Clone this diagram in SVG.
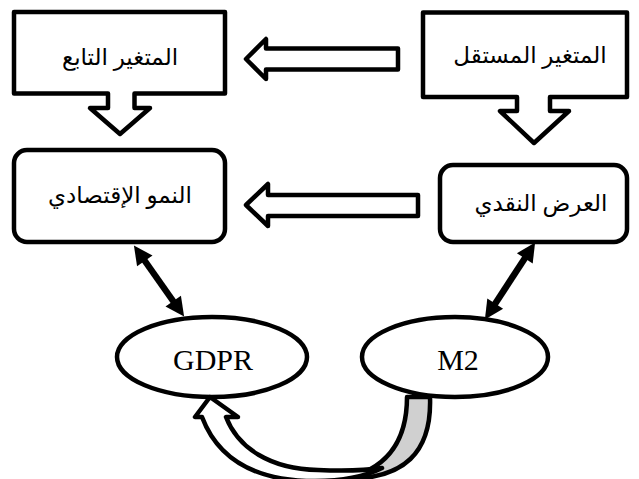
<svg xmlns="http://www.w3.org/2000/svg" width="639" height="479" viewBox="0 0 639 479">
<style>
.box{fill:#fff;stroke:#000;stroke-width:4.5;stroke-linejoin:round}
.blk{fill:#fff;stroke:#000;stroke-width:4.5;stroke-linejoin:round}
.ar{font-family:"Liberation Serif","DejaVu Sans",serif;font-size:23px;fill:#000;text-anchor:middle}
.lat{font-family:"Liberation Serif",serif;font-size:30px;fill:#000;text-anchor:middle}
.thick{stroke:#000;stroke-width:6.5;fill:none}
</style>
<defs>
<marker id="ah" markerUnits="userSpaceOnUse" markerWidth="20" markerHeight="20" viewBox="0 -9 17 18" refX="2" refY="0" orient="auto-start-reverse">
<path d="M0,-8.5 L17,0 L0,8.5 Z" fill="#000"/>
</marker>
</defs>
<rect width="639" height="479" fill="#fff"/>
<g id="node-dependent">
<path class="box" d="M14,12 L225,12 L225,93.5 L134.5,93.5 L134.5,108 L150,108 L120,134 L90,108 L108,108 L108,93.5 L14,93.5 Z"/>
<text class="ar" x="120" y="65">المتغير التابع</text>
</g>
<g id="node-independent">
<path class="box" d="M423,12.5 L627,12.5 L627,97 L550,97 L550,111 L569,111 L534,143 L500,111 L517,111 L517,97 L423,97 Z"/>
<text class="ar" x="530" y="63">المتغير المستقل</text>
</g>
<g id="node-growth">
<rect class="box" x="14" y="150" width="211" height="92" rx="13"/>
<text class="ar" x="120" y="203">النمو الإقتصادي</text>
</g>
<g id="node-money">
<rect class="box" x="440" y="165" width="187" height="77" rx="13"/>
<text class="ar" x="541" y="211">العرض النقدي</text>
</g>
<g id="node-gdpr">
<ellipse class="box" cx="212" cy="357" rx="95" ry="40"/>
<text class="lat" x="213" y="370">GDPR</text>
</g>
<g id="node-m2">
<ellipse class="box" cx="455" cy="357" rx="93" ry="40"/>
<text class="lat" x="458" y="370">M2</text>
</g>
<g id="connectors">
<path class="blk" d="M246,59 L266,39 L266,48.5 L398,48.5 L398,69.5 L266,69.5 L266,79 Z"/>
<path class="blk" d="M246,205 L268,184 L268,195 L418,195 L418,216 L268,216 L268,226 Z"/>
<line class="thick" x1="143.5" y1="259" x2="174.5" y2="303" marker-start="url(#ah)" marker-end="url(#ah)"/>
<line class="thick" x1="526" y1="256.5" x2="494" y2="305.5" marker-start="url(#ah)" marker-end="url(#ah)"/>
<path d="M407,397 L430,397 C432,452 405,480 342,479 C388,470 407,440 407,397 Z" fill="#d0d0d0" stroke="#000" stroke-width="4.5" stroke-linejoin="round"/>
<path class="blk" d="M202,417 C219,462 258,481 315,481 C345,481 366,476 382,468 C362,471 342,471 318,470 C270,469 238,448 226,417 L238,417 L210,397 L195,417 Z"/>
</g>
</svg>
